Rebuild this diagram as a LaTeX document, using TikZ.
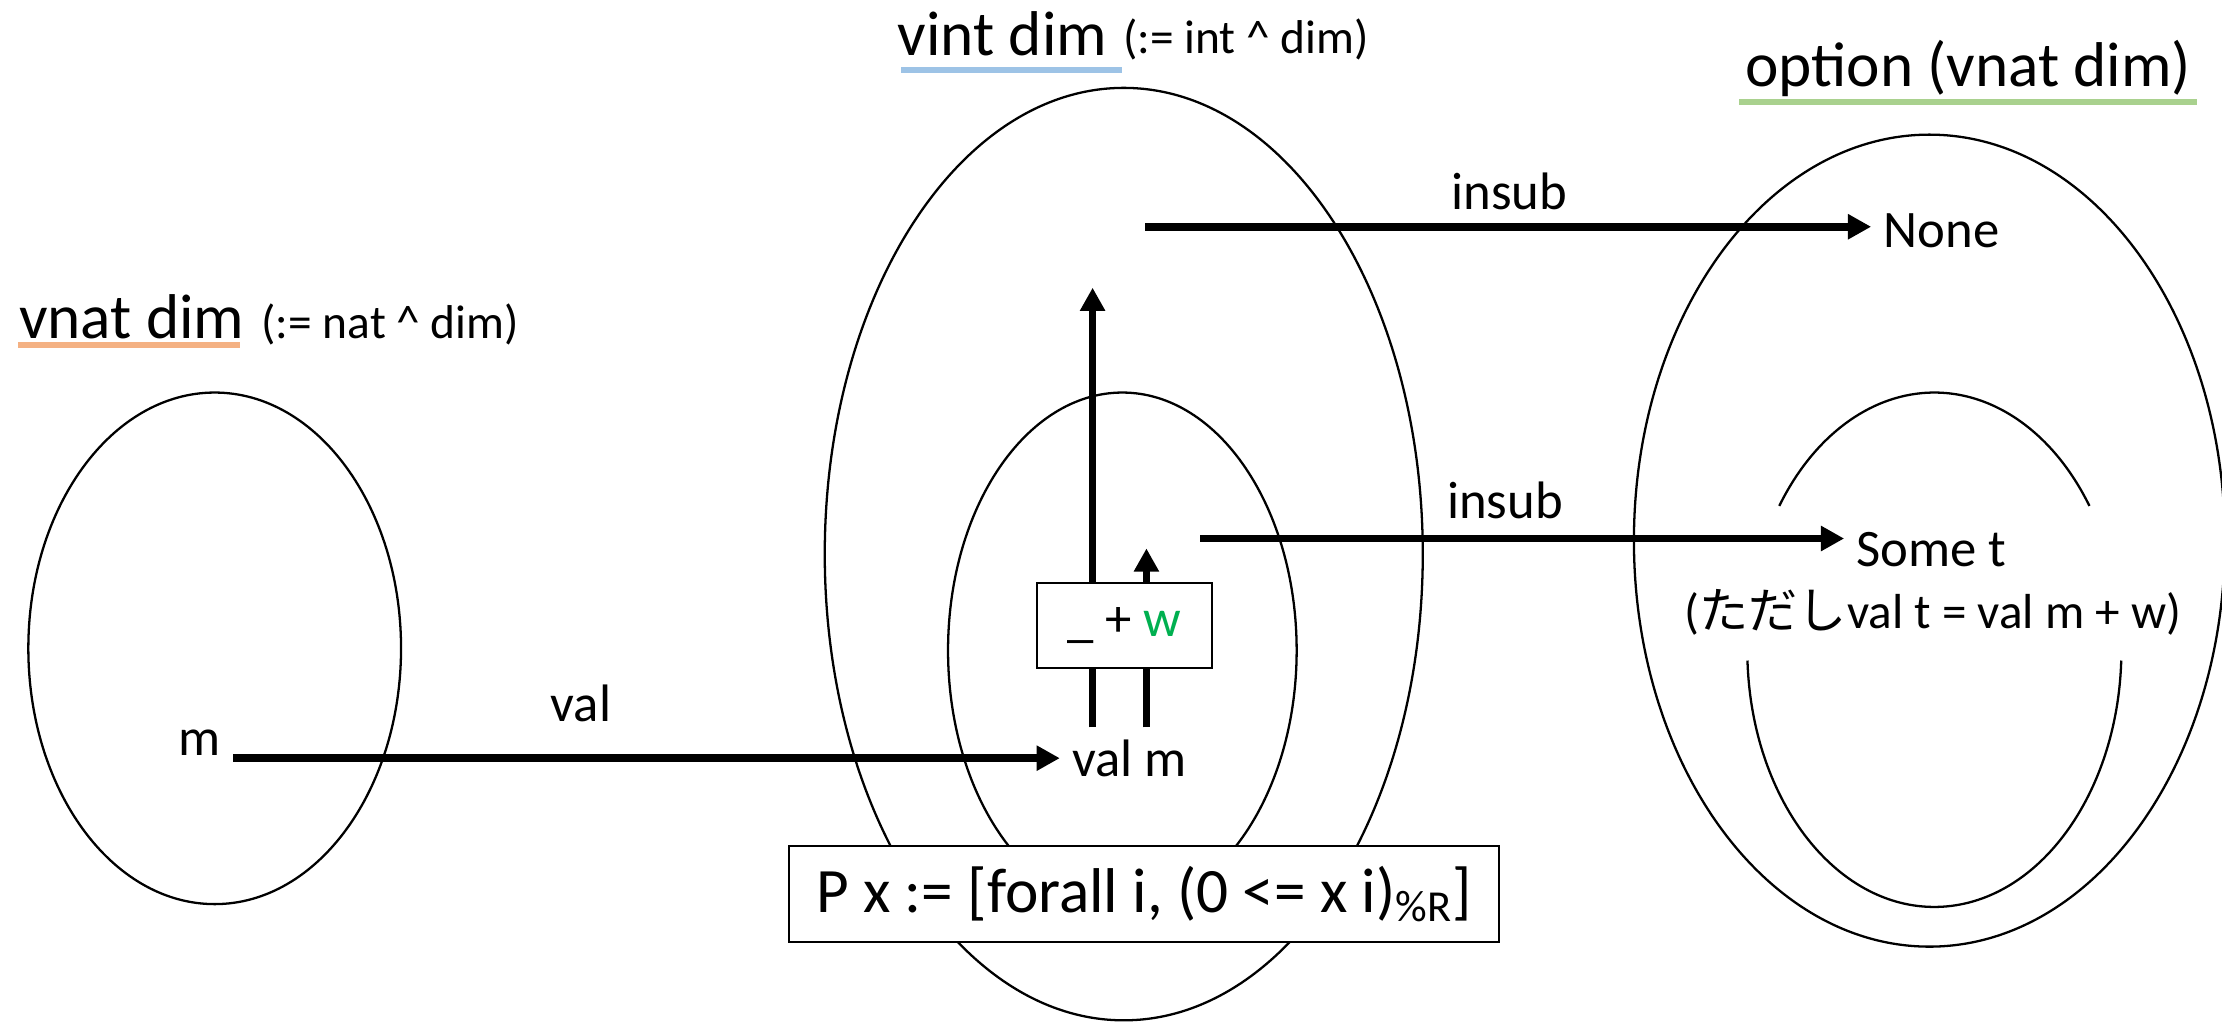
\documentclass[tikz,border=0pt]{standalone}
\usepackage{fontspec}
\setmainfont{Carlito}
\newfontfamily\jpfont{Noto Sans CJK JP}
\usetikzlibrary{arrows.meta}

\definecolor{ulorange}{HTML}{F4B183}
\definecolor{ulblue}{HTML}{9DC3E6}
\definecolor{ulgreen}{HTML}{A9D18E}
\definecolor{wgreen}{HTML}{00B050}

\begin{document}
\begin{tikzpicture}[x=0.014171cm,y=0.014171cm,
  set/.style={line width=0.65pt},
  arr/.style={line width=2.2pt,-{Triangle[length=6.6pt,width=6.8pt]}},
  lbl/.style={font=\fontsize{15}{18}\selectfont},
  title/.style={font=\fontsize{18}{22}\selectfont,inner sep=0pt,anchor=base west},
  defn/.style={font=\fontsize{13.5}{16}\selectfont,inner sep=0pt,anchor=base west},
  uline/.style={line width=1.7pt},
  box/.style={draw,line width=0.6pt,fill=white}]

\useasboundingbox (0,0) rectangle (1568,-721.2);

% the three sets
\draw[set] (151.5,-457.5) ellipse [x radius=131.5, y radius=180.5];
\draw[set] (793,-391) ellipse [x radius=211, y radius=329];
\draw[set] (792,-459) ellipse [x radius=123, y radius=182];
\draw[set] (1361.5,-381.5) ellipse [x radius=208.5, y radius=286.5];
\coordinate (oc) at (1365,-458.5);
\draw[set] ([shift={(34:132 and 181.5)}]oc) arc[start angle=34,end angle=146,x radius=132,y radius=181.5];
\draw[set] ([shift={(182.4:132 and 181.5)}]oc) arc[start angle=182.4,end angle=357.6,x radius=132,y radius=181.5];

% titles
\draw[uline,ulorange] (13,-243.2) -- (169.4,-243.2);
\draw[uline,ulblue] (636,-49.6) -- (791.6,-49.6);
\draw[uline,ulgreen] (1227.4,-72.2) -- (1550.4,-72.2);
\node[title] (vnat) at (13,-239) {vnat dim};
\node[defn] (vnatdef) at (184,-239) {(:= nat \textasciicircum{} dim)};
\node[title] (vint) at (633,-39) {vint dim};
\node[defn] (vintdef) at (792,-38) {(:= int \textasciicircum{} dim)};
\node[title] (opt) at (1231,-61) {option (vnat dim)};

% elements
\node[lbl] (m) at (141,-524) {m};
\node[lbl] (valm) at (797,-535) {val m};
\node[lbl] (val) at (410,-496) {val};
\node[lbl] (none) at (1370,-162.5) {None};
\node[lbl] (somet) at (1363,-388) {Some t};
\node[lbl,font=\fontsize{14}{17}\selectfont] (cond) at (1364,-432) {({\jpfont ただし}val t = val m + w)};
\node[lbl] (insubA) at (1065,-135) {insub};
\node[lbl] (insubB) at (1062,-353) {insub};

% arrows
\coordinate (upA) at (771,-203);
\coordinate (upB) at (809,-387);
\coordinate (inA) at (808,-160);
\coordinate (inB) at (847,-380);
\draw[arr] (m.east |- valm.west) -- (valm.west);
\draw[arr] (upA |- valm.north) -- (upA);
\draw[arr] (upB |- valm.north) -- (upB);
\draw[arr] (inA) -- (inA -| none.west);
\draw[arr] (inB) -- (inB -| somet.west);

% boxes
\node[box,lbl,minimum width=1.743cm,minimum height=0.845cm] (plusw) at (793.5,-441.5) {\_ + \textcolor{wgreen}{w}};
\node[box,font=\fontsize{18}{22}\selectfont,minimum width=7.1cm,minimum height=0.964cm] (pdef) at (807.5,-631) {P x := [forall i, (0 <= x i)\textsubscript{\%R}]};

\end{tikzpicture}
\end{document}
